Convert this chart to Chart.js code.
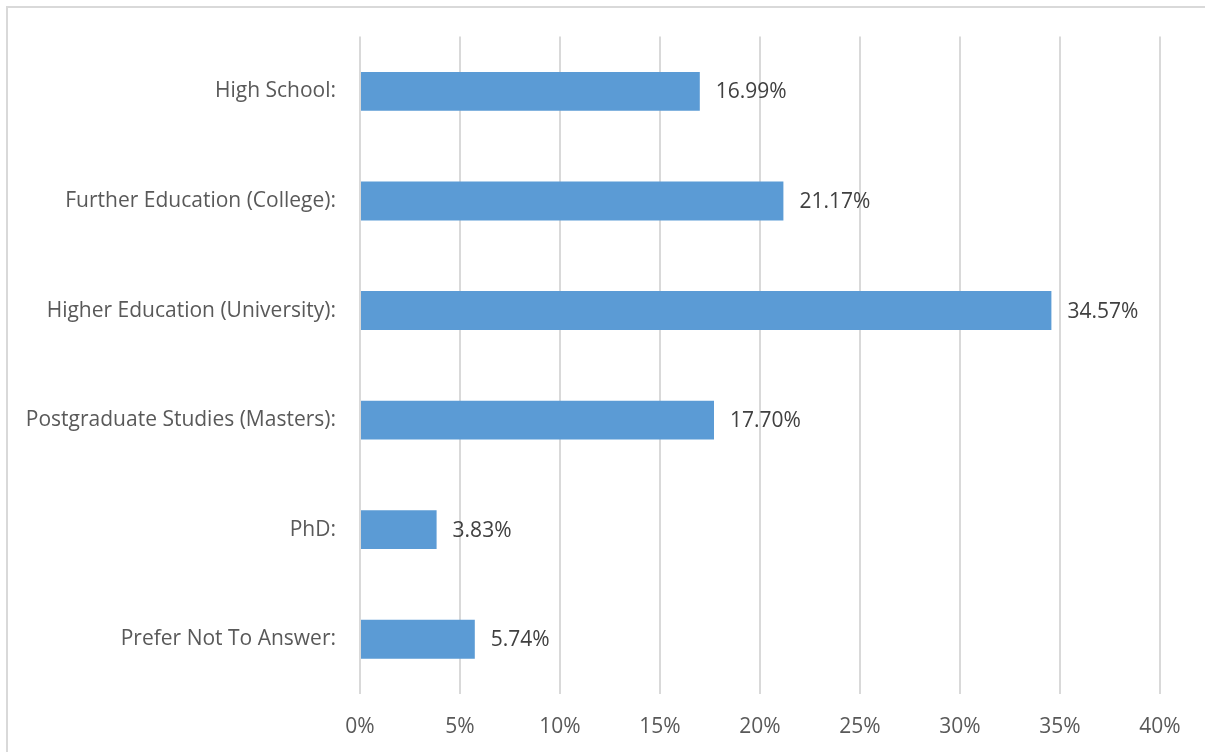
<!DOCTYPE html>
<html>
<head>
<meta charset="utf-8">
<script src="https://cdn.jsdelivr.net/npm/chart.js@4"></script>
<style>
    html, body { margin: 0; padding: 0; background: #fff; }
    #wrap { position: relative; width: 1205px; height: 752px; overflow: hidden; }
    #frame {
        position: absolute; left: 6px; top: 6px; right: -4px; bottom: -4px;
        border-top: 2px solid #d9d9d9; border-left: 2px solid #d9d9d9;
    }
    #chartNivel { position: absolute; left: 0; top: 0; }
</style>
</head>
<body>
<div id="wrap">
    <div id="frame"></div>
    <canvas id="chartNivel" width="1205" height="752"></canvas>
</div>
<script>
// ===== Nivel educativo de los encuestados =====
const niveles = [
    'High School:',
    'Further Education (College):',
    'Higher Education (University):',
    'Postgraduate Studies (Masters):',
    'PhD:',
    'Prefer Not To Answer:'
];
const porcentajes = [16.99, 21.17, 34.57, 17.70, 3.83, 5.74];
const ejeTicks = [0, 5, 10, 15, 20, 25, 30, 35, 40];

const FUENTE = '"Open Sans", Lato, sans-serif';

// Etiqueta con el valor al final de cada barra
const etiquetasValor = {
    id: 'etiquetasValor',
    afterDatasetsDraw(chart) {
        const { ctx } = chart;
        const meta = chart.getDatasetMeta(0);
        ctx.save();
        ctx.font = '21px ' + FUENTE;
        ctx.fillStyle = '#404040';
        ctx.textAlign = 'left';
        ctx.textBaseline = 'middle';
        meta.data.forEach((bar, i) => {
            ctx.fillText(porcentajes[i].toFixed(2) + '%', bar.x + 16, bar.y + 1);
        });
        ctx.restore();
    }
};

new Chart(document.getElementById('chartNivel').getContext('2d'), {
    type: 'bar',
    data: {
        labels: niveles,
        datasets: [{
            data: porcentajes,
            backgroundColor: '#5b9bd5',
            borderWidth: 0,
            barPercentage: 0.355,
            categoryPercentage: 1
        }]
    },
    options: {
        indexAxis: 'y',
        responsive: false,
        animation: false,
        layout: { padding: { top: 35, right: 45, left: 0, bottom: 0 } },
        plugins: {
            legend: { display: false },
            tooltip: { enabled: false }
        },
        scales: {
            x: {
                min: 0,
                max: 40,
                afterBuildTicks: axis => { axis.ticks = ejeTicks.map(v => ({ value: v })); },
                afterFit: axis => { axis.height = 58; },
                grid: { color: '#d9d9d9', lineWidth: 2, drawTicks: false },
                border: { display: false },
                ticks: {
                    padding: 20,
                    color: '#595959',
                    font: { size: 21, family: FUENTE },
                    callback: v => v + '%'
                }
            },
            y: {
                afterFit: axis => { axis.width = 360; },
                grid: { display: false, drawTicks: false },
                border: { display: false },
                ticks: {
                    padding: 24,
                    color: '#595959',
                    font: { size: 21, family: FUENTE }
                }
            }
        }
    },
    plugins: [etiquetasValor]
});
</script>
</body>
</html>
